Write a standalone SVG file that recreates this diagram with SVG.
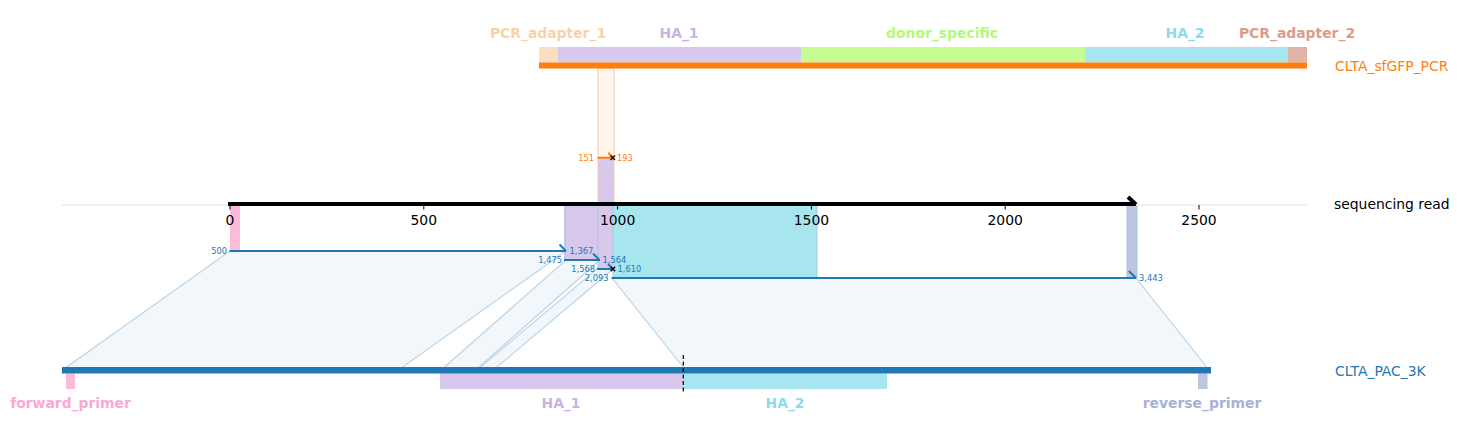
<svg xmlns="http://www.w3.org/2000/svg" width="1460" height="437" viewBox="0 0 1460 437">
<style>
text{font-family:"DejaVu Sans","Liberation Sans",sans-serif}
.feat{font-size:13.9px;font-weight:bold;text-anchor:middle}
.name{font-size:13.9px}
.tick{font-size:13.9px;text-anchor:middle;fill:#000}
.sm{font-size:8.3px}
.smb{fill:#1f77b4}
.smo{fill:#ff7f0e}
.r{text-anchor:end}
.poly{fill:#f1f7fa;stroke:#bcd6e8;stroke-width:1.2}
.alnb{stroke:#1f77b4;stroke-width:2;fill:none}
.alno{stroke:#ff7f0e;stroke-width:2;fill:none}
.xm{stroke:#000;stroke-width:1.3}
</style>
<rect width="1460" height="437" fill="#fff"/>

<g id="connectors">
  <!-- top alignment polygon -->
  <polygon points="598,68.5 614,68.5 614,158 598,158" fill="#fff5ec" stroke="#fdd3ae" stroke-width="1.2"/>
  <!-- bottom alignment polygons -->
  <polygon class="poly" points="230,251 566,251 402,367.5 66,367.5"/>
  <polygon class="poly" points="566,260 600,260 478.5,367.5 444,367.5"/>
  <polygon class="poly" points="597,269 613,269 496.5,367.5 480,367.5"/>
  <polygon class="poly" points="612,278 1136,278 1207,367.5 683.5,367.5"/>
</g>

<g id="read-features">
  <rect x="598" y="158" width="16" height="46" fill="#d8c8ec" stroke="#fbc9a0" stroke-width="1"/>
  <rect x="230" y="205.5" width="10" height="45" fill="#fdbbdc"/>
  <rect x="565" y="205.5" width="35" height="54.5" fill="#d8c8ec" stroke="#a9c4e3" stroke-width="1.5"/>
  <rect x="598" y="205.5" width="15" height="63.5" fill="#d8c8ec" stroke="#a9c4e3" stroke-width="1"/>
  <rect x="613" y="205.5" width="204" height="72.5" fill="#a8e6ef" stroke="#a6cde6" stroke-width="1"/>
  <rect x="1127" y="205.5" width="10" height="72.5" fill="#bcc5e1" stroke="#a6c2e2" stroke-width="1"/>
</g>

<g id="sequencing-read">
  <line x1="62" y1="205" x2="1307" y2="205" stroke="#e3e3e3" stroke-width="1"/>
  <line x1="228" y1="204" x2="1136" y2="204" stroke="#000" stroke-width="4"/>
  <line x1="1128" y1="197" x2="1136" y2="204.5" stroke="#000" stroke-width="4" stroke-linecap="butt"/>
  <g stroke="#000" stroke-width="1">
    <line x1="230" y1="205" x2="230" y2="209.5"/>
    <line x1="423.8" y1="205" x2="423.8" y2="209.5"/>
    <line x1="617.6" y1="205" x2="617.6" y2="209.5"/>
    <line x1="811.4" y1="205" x2="811.4" y2="209.5"/>
    <line x1="1005.2" y1="205" x2="1005.2" y2="209.5"/>
    <line x1="1199" y1="205" x2="1199" y2="209.5"/>
  </g>
  <text class="tick" x="230" y="225">0</text>
  <text class="tick" x="423.8" y="225">500</text>
  <text class="tick" x="617.6" y="225">1000</text>
  <text class="tick" x="811.4" y="225">1500</text>
  <text class="tick" x="1005.2" y="225">2000</text>
  <text class="tick" x="1199" y="225">2500</text>
  <text class="name" x="1334" y="208.5" fill="#000">sequencing read</text>
</g>

<g id="top-reference">
  <rect x="539" y="47" width="19" height="15.5" fill="#fadec0"/>
  <rect x="558" y="47" width="243" height="15.5" fill="#d8c8ec"/>
  <rect x="801" y="47" width="284" height="15.5" fill="#c8fc90"/>
  <rect x="1085" y="47" width="203" height="15.5" fill="#a8e6ef"/>
  <rect x="1288" y="47" width="19" height="15.5" fill="#dfb3a6"/>
  <line x1="539" y1="65.5" x2="1307" y2="65.5" stroke="#ff7f0e" stroke-width="6"/>
  <text class="feat" x="548" y="38" fill="#f8d3a8">PCR_adapter_1</text>
  <text class="feat" x="679" y="38" fill="#c9b2e4">HA_1</text>
  <text class="feat" x="942" y="38" fill="#b6f877">donor_specific</text>
  <text class="feat" x="1185" y="38" fill="#8edaea">HA_2</text>
  <text class="feat" x="1297" y="38" fill="#da9d8a">PCR_adapter_2</text>
  <text class="name" x="1335" y="70.5" fill="#ff7f0e">CLTA_sfGFP_PCR</text>
</g>

<g id="bottom-reference">
  <rect x="66" y="373.5" width="9" height="15.5" fill="#fdbbdc"/>
  <rect x="440" y="373.5" width="243.5" height="15.5" fill="#d8c8ec"/>
  <rect x="683.5" y="373.5" width="203.5" height="15.5" fill="#a8e6ef"/>
  <rect x="1198" y="373.5" width="9.5" height="15.5" fill="#bcc5e1"/>
  <line x1="62" y1="370.3" x2="1211" y2="370.3" stroke="#1f77b4" stroke-width="6.5"/>
  <line x1="683.3" y1="355" x2="683.3" y2="394" stroke="#000" stroke-width="1.2" stroke-dasharray="4,2.5"/>
  <text class="feat" x="70.5" y="408" fill="#fba8d3">forward_primer</text>
  <text class="feat" x="561" y="408" fill="#c9b2e4">HA_1</text>
  <text class="feat" x="785" y="408" fill="#8edaea">HA_2</text>
  <text class="feat" x="1202" y="408" fill="#a5b2d7">reverse_primer</text>
  <text class="name" x="1335" y="376" fill="#1f77b4">CLTA_PAC_3K</text>
</g>

<g id="alignment-top">
  <line class="alno" x1="597.5" y1="157.7" x2="613" y2="157.7"/>
  <line class="alno" x1="608.3" y1="152.7" x2="613" y2="157.7"/>
  <path class="xm" d="M610.5,155.5 L615,160 M615,155.5 L610.5,160"/>
  <text class="sm smo r" x="594" y="160.6">151</text>
  <text class="sm smo" x="617" y="160.6">193</text>
</g>

<g id="alignment-1">
  <line class="alnb" x1="229.5" y1="251" x2="566" y2="251"/>
  <line class="alnb" x1="559.5" y1="244.5" x2="566" y2="251"/>
  <text class="sm smb r" x="227" y="253.9">500</text>
  <text class="sm smb" x="569.5" y="253.9">1,367</text>
</g>
<g id="alignment-2">
  <line class="alnb" x1="564" y1="260" x2="600" y2="260"/>
  <line class="alnb" x1="593" y1="253.5" x2="599.5" y2="260"/>
  <text class="sm smb r" x="562" y="262.9">1,475</text>
  <text class="sm smb" x="602.5" y="262.9">1,564</text>
</g>
<g id="alignment-3">
  <line class="alnb" x1="597" y1="269" x2="613" y2="269"/>
  <line class="alnb" x1="608" y1="264" x2="613" y2="269"/>
  <path class="xm" d="M610.7,266.7 L615.2,271.2 M615.2,266.7 L610.7,271.2"/>
  <text class="sm smb r" x="595" y="271.9">1,568</text>
  <text class="sm smb" x="617.5" y="271.9">1,610</text>
</g>
<g id="alignment-4">
  <line class="alnb" x1="611.7" y1="278" x2="1136" y2="278"/>
  <line class="alnb" x1="1128.8" y1="271" x2="1136" y2="278"/>
  <text class="sm smb r" x="608.5" y="280.9">2,093</text>
  <text class="sm smb" x="1139" y="280.9">3,443</text>
</g>
</svg>
